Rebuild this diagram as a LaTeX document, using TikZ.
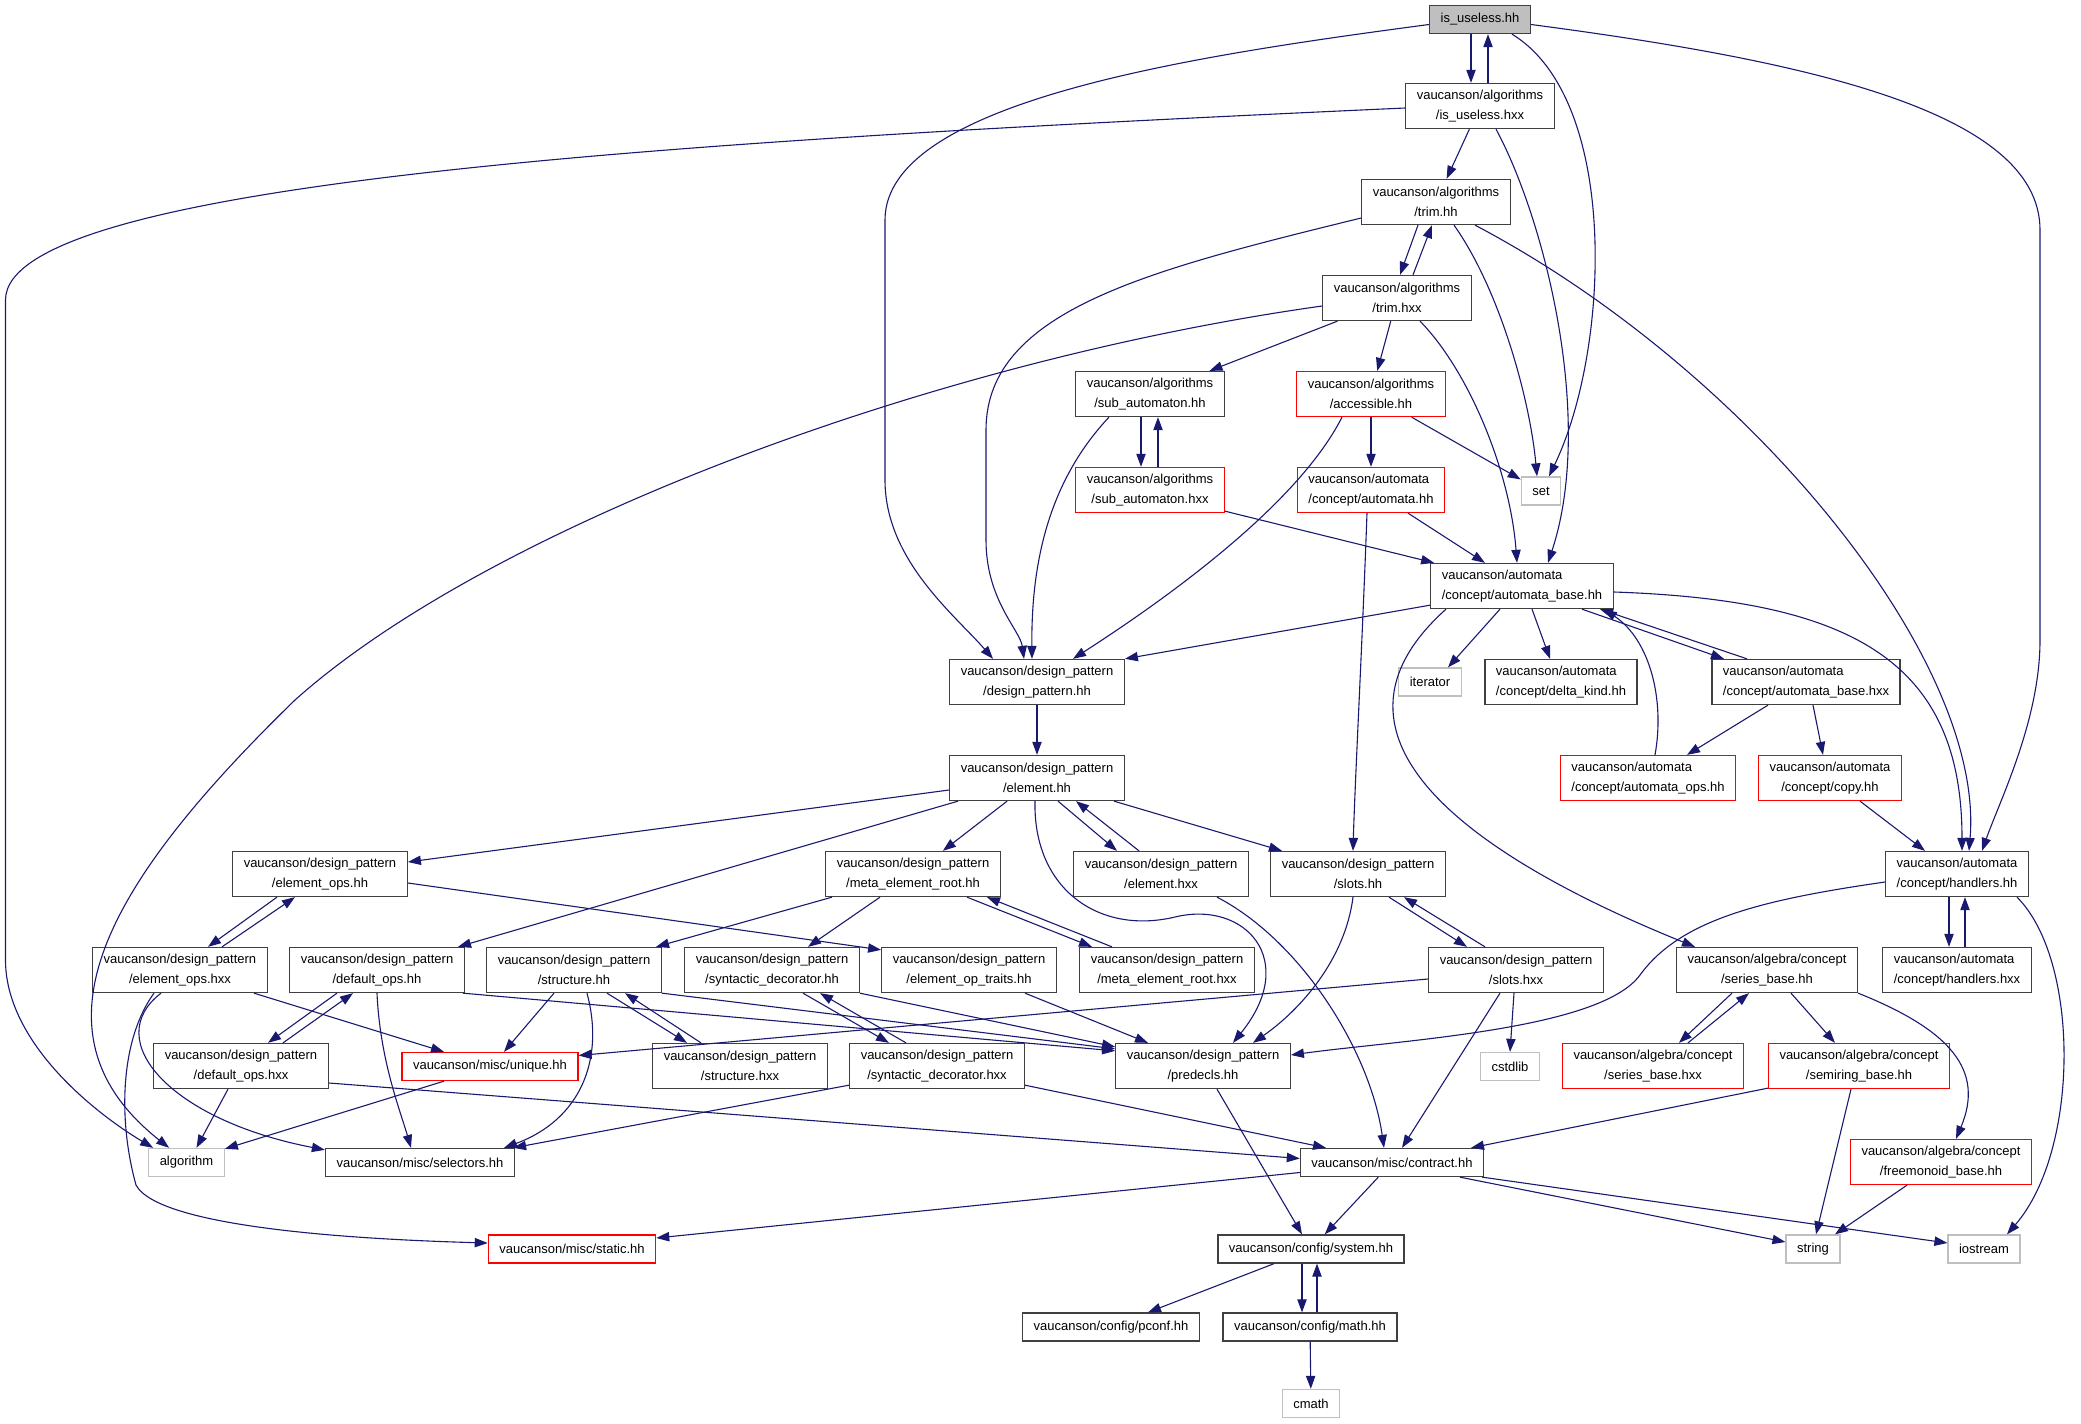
\documentclass[tikz,border=0pt]{standalone}
\usepackage{fontspec}
\setmainfont{Liberation Sans}
\usepackage{xcolor}
\usepackage{tikz}
\usetikzlibrary{arrows.meta}
\definecolor{edgeblue}{HTML}{191970}
\definecolor{sysgray}{HTML}{BFBFBF}

\begin{document}
\begin{tikzpicture}[x=1pt,y=-1pt,
hdr/.style={draw=black!75,line width=1.3pt,inner xsep=11pt,inner ysep=2pt,align=center,
  font=\fontsize{13}{20}\selectfont,minimum height=28pt},
two/.style={minimum height=45pt},
redhdr/.style={hdr,draw=red},
syshdr/.style={hdr,draw=sysgray},
roothdr/.style={hdr,fill=sysgray},
incl/.style={draw=edgeblue,line width=1.1pt,-{Triangle[length=13pt,width=9.3pt]}}
]
\useasboundingbox (0,0) rectangle (2081,1424);

\node[roothdr] (root) at (1480,19.5) {is\_useless.hh};
\node[hdr,two] (iuhxx) at (1480,106) {vaucanson/algorithms\\/is\_useless.hxx};
\node[hdr,two] (trimhh) at (1436,202) {vaucanson/algorithms\\/trim.hh};
\node[hdr,two] (trimhxx) at (1397,298) {vaucanson/algorithms\\/trim.hxx};
\node[hdr,two] (subhh) at (1150,394) {vaucanson/algorithms\\/sub\_automaton.hh};
\node[redhdr,two] (access) at (1371,394) {vaucanson/algorithms\\/accessible.hh};
\node[redhdr,two] (subhxx) at (1150,490) {vaucanson/algorithms\\/sub\_automaton.hxx};
\node[redhdr,two,align=left] (autohh) at (1371,490) {vaucanson/automata\\/concept/automata.hh};
\node[syshdr] (set) at (1541,491) {set};
\node[hdr,two,align=left] (abasehh) at (1522,586) {vaucanson/automata\\/concept/automata\_base.hh};
\node[hdr,two] (dphh) at (1037,682) {vaucanson/design\_pattern\\/design\_pattern.hh};
\node[syshdr] (iterator) at (1430,682) {iterator};
\node[hdr,two,align=left] (delta) at (1561,682) {vaucanson/automata\\/concept/delta\_kind.hh};
\node[hdr,two,align=left] (abasehxx) at (1806,682) {vaucanson/automata\\/concept/automata\_base.hxx};
\node[hdr,two] (elemhh) at (1037,778) {vaucanson/design\_pattern\\/element.hh};
\node[redhdr,two,align=left] (aops) at (1648,778) {vaucanson/automata\\/concept/automata\_ops.hh};
\node[redhdr,two] (copy) at (1830,778) {vaucanson/automata\\/concept/copy.hh};
\node[hdr,two] (eopshh) at (320,874) {vaucanson/design\_pattern\\/element\_ops.hh};
\node[hdr,two] (merhh) at (913,874) {vaucanson/design\_pattern\\/meta\_element\_root.hh};
\node[hdr,two] (elemhxx) at (1161,874) {vaucanson/design\_pattern\\/element.hxx};
\node[hdr,two] (slotshh) at (1358,874) {vaucanson/design\_pattern\\/slots.hh};
\node[hdr,two,align=left] (handhh) at (1957,874) {vaucanson/automata\\/concept/handlers.hh};
\node[hdr,two] (eopshxx) at (180,970) {vaucanson/design\_pattern\\/element\_ops.hxx};
\node[hdr,two] (dopshh) at (377,970) {vaucanson/design\_pattern\\/default\_ops.hh};
\node[hdr,two] (structhh) at (574,970) {vaucanson/design\_pattern\\/structure.hh};
\node[hdr,two] (synhh) at (772,970) {vaucanson/design\_pattern\\/syntactic\_decorator.hh};
\node[hdr,two] (optraits) at (969,970) {vaucanson/design\_pattern\\/element\_op\_traits.hh};
\node[hdr,two] (merhxx) at (1167,970) {vaucanson/design\_pattern\\/meta\_element\_root.hxx};
\node[hdr,two] (slotshxx) at (1516,970) {vaucanson/design\_pattern\\/slots.hxx};
\node[hdr,two] (serhh) at (1767,970) {vaucanson/algebra/concept\\/series\_base.hh};
\node[hdr,two,align=left] (handhxx) at (1957,970) {vaucanson/automata\\/concept/handlers.hxx};
\node[hdr,two] (dopshxx) at (241,1066) {vaucanson/design\_pattern\\/default\_ops.hxx};
\node[redhdr] (unique) at (490,1066.5) {vaucanson/misc/unique.hh};
\node[hdr,two] (structhxx) at (740,1066) {vaucanson/design\_pattern\\/structure.hxx};
\node[hdr,two] (synhxx) at (937,1066) {vaucanson/design\_pattern\\/syntactic\_decorator.hxx};
\node[hdr,two] (predecls) at (1203,1066) {vaucanson/design\_pattern\\/predecls.hh};
\node[syshdr] (cstdlib) at (1510,1066.5) {cstdlib};
\node[redhdr,two] (serhxx) at (1653,1066) {vaucanson/algebra/concept\\/series\_base.hxx};
\node[redhdr,two] (semiring) at (1859,1066) {vaucanson/algebra/concept\\/semiring\_base.hh};
\node[syshdr] (algorithm) at (186.5,1162.5) {algorithm};
\node[hdr] (selectors) at (420,1162.5) {vaucanson/misc/selectors.hh};
\node[hdr] (contract) at (1392,1162.5) {vaucanson/misc/contract.hh};
\node[redhdr,two] (freemon) at (1941,1162) {vaucanson/algebra/concept\\/freemonoid\_base.hh};
\node[redhdr] (static) at (572,1249) {vaucanson/misc/static.hh};
\node[hdr] (system) at (1311,1249) {vaucanson/config/system.hh};
\node[syshdr] (string) at (1813,1249) {string};
\node[syshdr] (iostream) at (1984,1249) {iostream};
\node[hdr] (pconf) at (1111,1327) {vaucanson/config/pconf.hh};
\node[hdr] (math) at (1310,1327) {vaucanson/config/math.hh};
\node[syshdr] (cmath) at (1311,1403.5) {cmath};

\draw[incl] ([xshift=-9]root.south) -- ([xshift=-9]iuhxx.north);
\draw[incl] ([xshift=8]iuhxx.north) -- ([xshift=8]root.south);
\draw[incl] ([yshift=-5]root.west) .. controls (1200,55) and (885,100) .. (885,220) -- (885,480) .. controls (885,560) and (955,615) .. ([xshift=-44]dphh.north);
\draw[incl] ([xshift=32]root.south) .. controls (1620,100) and (1610,350) .. ([xshift=8]set.north);
\draw[incl] ([yshift=-5]root.east) .. controls (1800,60) and (2040,110) .. (2040,230) -- (2040,640) .. controls (2040,720) and (2000,800) .. ([xshift=25]handhh.north);
\draw[incl] ([yshift=-2]iuhxx.west) .. controls (700,140) and (5.5,180) .. (5.5,300) -- (5.5,960) .. controls (5.5,1040) and (90,1110) .. ([xshift=5]algorithm.north west);
\draw[incl] (iuhxx) -- (trimhh);
\draw[incl] ([xshift=16]iuhxx.south) .. controls (1545,220) and (1595,420) .. ([xshift=26]abasehh.north);
\draw[incl] ([xshift=-18]trimhh.south) -- ([xshift=3]trimhxx.north);
\draw[incl] ([xshift=16]trimhxx.north) -- ([xshift=-4]trimhh.south);
\draw[incl] ([yshift=-16]trimhh.west) .. controls (1150,270) and (986,310) .. (986,430) -- (986,540) .. controls (986,600) and (1020,630) .. ([xshift=-13]dphh.north);
\draw[incl] ([xshift=18]trimhh.south) .. controls (1500,290) and (1530,400) .. ([xshift=-4]set.north);
\draw[incl] ([xshift=39]trimhh.south) .. controls (1750,370) and (1985,660) .. ([xshift=12]handhh.north);
\draw[incl] ([yshift=-8]trimhxx.west) .. controls (923,362) and (485,530) .. (295,700) .. controls (110,880) and (20,1030) .. ([xshift=21]algorithm.north west);
\draw[incl] (trimhxx) -- (subhh);
\draw[incl] (trimhxx) -- (access);
\draw[incl] ([xshift=23]trimhxx.south) .. controls (1468,370) and (1510,470) .. ([xshift=-5]abasehh.north);
\draw[incl] ([xshift=-41]subhh.south) .. controls (1050,480) and (1031,560) .. ([xshift=-5]dphh.north);
\draw[incl] ([xshift=-9]subhh.south) -- ([xshift=-9]subhxx.north);
\draw[incl] ([xshift=8]subhxx.north) -- ([xshift=8]subhh.south);
\draw[incl] ([xshift=-29]access.south) .. controls (1300,500) and (1180,590) .. ([xshift=36]dphh.north);
\draw[incl] (access) -- (autohh);
\draw[incl] (access) -- (set);
\draw[incl] ([yshift=2]subhxx.south east) -- ([xshift=4]abasehh.north west);
\draw[incl] ([xshift=37]autohh.south) -- ([xshift=-37]abasehh.north);
\draw[incl] ([xshift=-4]autohh.south) .. controls (1362,650) and (1355,780) .. ([xshift=-5]slotshh.north);
\draw[incl] ([yshift=4]abasehh.south west) -- (dphh.north east);
\draw[incl] ([xshift=-22]abasehh.south) -- ([xshift=18]iterator.north);
\draw[incl] ([xshift=10]abasehh.south) -- ([xshift=-11]delta.north);
\draw[incl] ([xshift=60]abasehh.south) -- ([xshift=-82]abasehxx.north);
\draw[incl] ([xshift=-59]abasehxx.north) -- ([xshift=78]abasehh.south);
\draw[incl] ([yshift=-6]abasehh.east) .. controls (1850,600) and (1962,660) .. ([xshift=5]handhh.north);
\draw[incl] ([xshift=-76]abasehh.south) .. controls (1300,740) and (1480,860) .. ([xshift=-72]serhh.north);
\draw[incl] ([xshift=7]aops.north) .. controls (1665,700) and (1650,640) .. ([xshift=82]abasehh.south);
\draw[incl] ([xshift=-38]abasehxx.south) -- ([xshift=39]aops.north);
\draw[incl] ([xshift=7]abasehxx.south) -- ([xshift=-7]copy.north);
\draw[incl] ([xshift=30]copy.south) -- ([xshift=-32]handhh.north);
\draw[incl] (dphh) -- (elemhh);
\draw[incl] ([yshift=-12]elemhh.west) -- ([yshift=12]eopshh.east);
\draw[incl] ([xshift=-79]elemhh.south) -- ([xshift=81]dopshh.north);
\draw[incl] (elemhh) -- (merhh);
\draw[incl] ([xshift=21]elemhh.south) -- ([xshift=-44]elemhxx.north);
\draw[incl] ([xshift=-22]elemhxx.north) -- ([xshift=39]elemhh.south);
\draw[incl] ([xshift=77]elemhh.south) -- ([xshift=-76]slotshh.north);
\draw[incl] ([xshift=-2]elemhh.south) .. controls (1033,890) and (1100,935) .. (1175,917) .. controls (1245,900) and (1300,960) .. ([xshift=30]predecls.north);
\draw[incl] ([xshift=-43]eopshh.south) -- ([xshift=28]eopshxx.north);
\draw[incl] ([xshift=42]eopshxx.north) -- ([xshift=-25]eopshh.south);
\draw[incl] ([yshift=-9]eopshh.east) -- ([yshift=-3]optraits.north west);
\draw[incl] ([xshift=-81]merhh.south) -- ([xshift=82]structhh.north);
\draw[incl] ([xshift=-33]merhh.south) -- ([xshift=36]synhh.north);
\draw[incl] ([xshift=54]merhh.south) -- ([xshift=-75]merhxx.north);
\draw[incl] ([xshift=-55]merhxx.north) -- ([xshift=74]merhh.south);
\draw[incl] ([xshift=56]elemhxx.south) .. controls (1300,940) and (1370,1050) .. ([xshift=-8]contract.north);
\draw[incl] ([xshift=31]slotshh.south) -- ([xshift=-49]slotshxx.north);
\draw[incl] ([xshift=-31]slotshxx.north) -- ([xshift=46]slotshh.south);
\draw[incl] ([xshift=-5]slotshh.south) .. controls (1345,960) and (1300,1010) .. ([xshift=50]predecls.north);
\draw[incl] ([xshift=-8]handhh.south) -- ([xshift=-8]handhxx.north);
\draw[incl] ([xshift=8]handhxx.north) -- ([xshift=8]handhh.south);
\draw[incl] ([yshift=-8]handhh.west) .. controls (1760,900) and (1680,920) .. (1640,975) .. controls (1600,1030) and (1400,1040) .. ([yshift=11]predecls.east);
\draw[incl] ([xshift=60]handhh.south) .. controls (2080,960) and (2080,1150) .. ([xshift=23]iostream.north);
\draw[incl] ([xshift=74]eopshxx.south) -- ([xshift=-46]unique.north);
\draw[incl] ([xshift=-19]eopshxx.south) .. controls (100,1040) and (170,1120) .. ([yshift=-2]selectors.north west);
\draw[incl] ([xshift=-26]eopshxx.south) .. controls (120,1040) and (118,1120) .. (136,1185) .. controls (160,1230) and (380,1240) .. ([yshift=6]static.west);
\draw[incl] ([xshift=-40]dopshh.south) -- ([xshift=27]dopshxx.north);
\draw[incl] ([xshift=42]dopshxx.north) -- ([xshift=-24]dopshh.south);
\draw[incl] (dopshh.south) .. controls (380,1060) and (400,1110) .. ([xshift=-9]selectors.north);
\draw[incl] ([xshift=-2]dopshh.south east) -- ([yshift=-8]predecls.north west);
\draw[incl] (structhh.south east) -- ([yshift=-6]predecls.north west);
\draw[incl] ([xshift=-20]structhh.south) -- ([xshift=14]unique.north);
\draw[incl] ([xshift=13]structhh.south) .. controls (605,1060) and (580,1120) .. ([xshift=84]selectors.north);
\draw[incl] ([xshift=33]structhh.south) -- ([xshift=-53]structhxx.north);
\draw[incl] ([xshift=-39]structhxx.north) -- ([xshift=51]structhh.south);
\draw[incl] ([xshift=31]synhh.south) -- ([xshift=-48]synhxx.north);
\draw[incl] ([xshift=-31]synhxx.north) -- ([xshift=48]synhh.south);
\draw[incl] (synhh.south east) -- ([yshift=-4]predecls.north west);
\draw[incl] ([xshift=56]optraits.south) -- ([xshift=-55]predecls.north);
\draw[incl] ([yshift=-9]slotshxx.west) -- ([yshift=11]unique.east);
\draw[incl] ([xshift=-2]slotshxx.south) -- (cstdlib.north);
\draw[incl] ([xshift=-16]slotshxx.south) -- ([xshift=10]contract.north);
\draw[incl] ([xshift=-35]serhh.south) -- ([xshift=26]serhxx.north);
\draw[incl] ([xshift=35]serhxx.north) -- ([xshift=-18]serhh.south);
\draw[incl] ([xshift=24]serhh.south) -- ([xshift=-24]semiring.north);
\draw[incl] (serhh.south east) .. controls (1950,1030) and (1985,1070) .. ([xshift=15]freemon.north);
\draw[incl] ([xshift=-13]dopshxx.south) -- ([xshift=10]algorithm.north);
\draw[incl] ([yshift=-17]dopshxx.east) -- ([yshift=4]contract.west);
\draw[incl] ([xshift=-46]unique.south) -- ([yshift=-1]algorithm.north east);
\draw[incl] ([yshift=4]synhxx.south west) -- ([xshift=-2]selectors.north east);
\draw[incl] ([yshift=4]synhxx.south east) -- ([xshift=-66]contract.north);
\draw[incl] ([xshift=14]predecls.south) -- ([xshift=-9]system.north);
\draw[incl] (contract) -- (system);
\draw[incl] ([yshift=1]semiring.south west) -- ([xshift=79]contract.north);
\draw[incl] ([xshift=-8]semiring.south) -- ([xshift=3]string.north);
\draw[incl] ([xshift=-34]freemon.south) -- ([xshift=22]string.north);
\draw[incl] ([yshift=-10]contract.west) -- ([yshift=11]static.east);
\draw[incl] ([xshift=68]contract.south) -- ([yshift=7]string.west);
\draw[incl] ([xshift=-2]contract.south east) -- ([yshift=6]iostream.west);
\draw[incl] ([xshift=-37]system.south) -- ([xshift=37]pconf.north);
\draw[incl] ([xshift=-9]system.south) -- ([xshift=-8]math.north);
\draw[incl] ([xshift=7]math.north) -- ([xshift=6]system.south);
\draw[incl] (math) -- (cmath);
\end{tikzpicture}
\end{document}
